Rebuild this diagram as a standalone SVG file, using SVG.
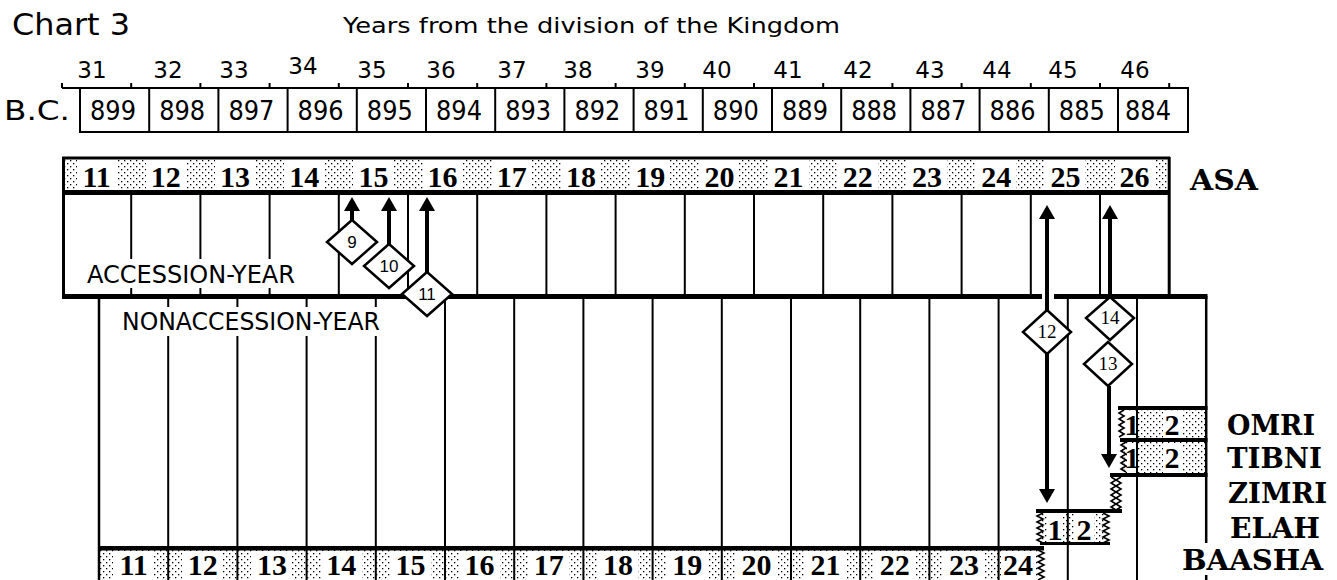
<svg xmlns="http://www.w3.org/2000/svg" width="1337" height="580" viewBox="0 0 1337 580">
<defs>
<pattern id="stip" width="6" height="6" patternUnits="userSpaceOnUse">
<rect width="6" height="6" fill="#fff"/>
<rect x="1" y="1" width="1.3" height="1.3" fill="#000"/>
<rect x="4" y="4" width="1.3" height="1.3" fill="#000"/>
</pattern>
</defs>
<style>
.sans{font-family:"DejaVu Sans","Liberation Sans",sans-serif;fill:#000}
.num{font-family:"Liberation Serif","DejaVu Serif",serif;font-weight:bold;font-size:30px;fill:#000;text-anchor:middle}
.lbl{font-family:"DejaVu Serif","Liberation Serif",serif;font-weight:bold;font-size:27px;fill:#000}
.ln{stroke:#000;stroke-width:2;fill:none}
.bd{stroke:#000;stroke-width:3;fill:none}
.zig{stroke:#000;stroke-width:1.6;fill:none}
.wh{fill:#fff}
.blk{fill:#000}
.dia{fill:#fff;stroke:#000;stroke-width:2.5}
.dn{font-family:"Liberation Sans","DejaVu Sans",sans-serif;font-size:17px;text-anchor:middle;fill:#000}
.dns{font-family:"Liberation Serif","DejaVu Serif",serif;font-size:19px;text-anchor:middle;fill:#000}
.shaft{stroke:#000;stroke-width:4;fill:none}
.yr{font-family:"DejaVu Sans","Liberation Sans",sans-serif;font-size:23px;text-anchor:middle;fill:#000}
.bc{font-family:"DejaVu Sans","Liberation Sans",sans-serif;font-size:26px;text-anchor:middle;fill:#000}
</style>
<rect width="1337" height="580" fill="#fff"/>

<g id="title">
<text x="12" y="35" class="sans" font-size="30" textLength="118" lengthAdjust="spacingAndGlyphs">Chart 3</text>
<text x="343" y="33" class="sans" font-size="21" textLength="497" lengthAdjust="spacingAndGlyphs">Years from the division of the Kingdom</text>
</g>

<g id="year-scale">
<line class="ln" x1="62" y1="88" x2="1188" y2="88"/>
<path class="ln" d="M62 83V88M131.2 83V88M200.4 83V88M269.6 83V88M338.8 83V88M408 83V88M477.2 83V88M546.4 83V88M615.6 83V88M684.8 83V88M754 83V88M823.2 83V88M892.4 83V88M961.6 83V88M1030.8 83V88M1100 83V88M1169.2 83V88"/>
<text class="yr" x="92" y="78">31</text>
<text class="yr" x="168" y="78">32</text>
<text class="yr" x="234" y="78">33</text>
<text class="yr" x="303" y="74">34</text>
<text class="yr" x="372" y="78">35</text>
<text class="yr" x="441" y="78">36</text>
<text class="yr" x="512" y="78">37</text>
<text class="yr" x="578" y="78">38</text>
<text class="yr" x="650" y="78">39</text>
<text class="yr" x="717" y="78">40</text>
<text class="yr" x="788" y="78">41</text>
<text class="yr" x="858" y="78">42</text>
<text class="yr" x="930" y="78">43</text>
<text class="yr" x="997" y="78">44</text>
<text class="yr" x="1063" y="78">45</text>
<text class="yr" x="1135" y="78">46</text>
</g>

<g id="bc-row">
<text x="4" y="120" class="sans" font-size="26" textLength="66" lengthAdjust="spacingAndGlyphs">B.C.</text>
<rect class="ln" x="80" y="88" width="1108" height="44"/>
<path class="ln" d="M149.2 88V132M218.4 88V132M287.6 88V132M356.8 88V132M426 88V132M495.2 88V132M564.4 88V132M633.6 88V132M702.8 88V132M772 88V132M841.2 88V132M910.4 88V132M979.6 88V132M1048.8 88V132M1118 88V132"/>
<g class="bc">
<text x="113" y="120" textLength="46" lengthAdjust="spacingAndGlyphs">899</text>
<text x="182.2" y="120" textLength="46" lengthAdjust="spacingAndGlyphs">898</text>
<text x="251.4" y="120" textLength="46" lengthAdjust="spacingAndGlyphs">897</text>
<text x="320.6" y="120" textLength="46" lengthAdjust="spacingAndGlyphs">896</text>
<text x="389.8" y="120" textLength="46" lengthAdjust="spacingAndGlyphs">895</text>
<text x="459" y="120" textLength="46" lengthAdjust="spacingAndGlyphs">894</text>
<text x="528.2" y="120" textLength="46" lengthAdjust="spacingAndGlyphs">893</text>
<text x="597.4" y="120" textLength="46" lengthAdjust="spacingAndGlyphs">892</text>
<text x="666.6" y="120" textLength="46" lengthAdjust="spacingAndGlyphs">891</text>
<text x="735.8" y="120" textLength="46" lengthAdjust="spacingAndGlyphs">890</text>
<text x="805" y="120" textLength="46" lengthAdjust="spacingAndGlyphs">889</text>
<text x="874.2" y="120" textLength="46" lengthAdjust="spacingAndGlyphs">888</text>
<text x="943.4" y="120" textLength="46" lengthAdjust="spacingAndGlyphs">887</text>
<text x="1012.6" y="120" textLength="46" lengthAdjust="spacingAndGlyphs">886</text>
<text x="1081.8" y="120" textLength="46" lengthAdjust="spacingAndGlyphs">885</text>
<text x="1148" y="120" textLength="46" lengthAdjust="spacingAndGlyphs">884</text>
</g>
</g>

<g id="asa">
<rect x="62" y="158" width="1107.2" height="33" fill="url(#stip)"/>
<line class="bd" x1="62" y1="158" x2="1170" y2="158"/>
<rect class="blk" x="62" y="190" width="1107.2" height="5"/>
<line class="bd" x1="63.5" y1="157" x2="63.5" y2="296"/>
<line class="bd" x1="1169.2" y1="157" x2="1169.2" y2="296"/>
<g class="wh">
<rect x="77" y="160" width="40" height="30"/><rect x="146" y="160" width="40" height="30"/><rect x="215" y="160" width="40" height="30"/><rect x="284" y="160" width="40" height="30"/><rect x="353" y="160" width="40" height="30"/><rect x="423" y="160" width="40" height="30"/><rect x="492" y="160" width="40" height="30"/><rect x="561" y="160" width="40" height="30"/><rect x="630" y="160" width="40" height="30"/><rect x="699" y="160" width="40" height="30"/><rect x="769" y="160" width="40" height="30"/><rect x="838" y="160" width="40" height="30"/><rect x="907" y="160" width="40" height="30"/><rect x="976" y="160" width="40" height="30"/><rect x="1045" y="160" width="40" height="30"/><rect x="1115" y="160" width="40" height="30"/>
</g>
<text class="num" x="96.6" y="187">11</text>
<text class="num" x="165.8" y="187">12</text>
<text class="num" x="235" y="187">13</text>
<text class="num" x="304.2" y="187">14</text>
<text class="num" x="373.4" y="187">15</text>
<text class="num" x="442.6" y="187">16</text>
<text class="num" x="511.8" y="187">17</text>
<text class="num" x="581" y="187">18</text>
<text class="num" x="650.2" y="187">19</text>
<text class="num" x="719.4" y="187">20</text>
<text class="num" x="788.6" y="187">21</text>
<text class="num" x="857.8" y="187">22</text>
<text class="num" x="927" y="187">23</text>
<text class="num" x="996.2" y="187">24</text>
<text class="num" x="1065.4" y="187">25</text>
<text class="num" x="1134.6" y="187">26</text>
<text class="lbl" x="1190" y="190" textLength="68" lengthAdjust="spacingAndGlyphs">ASA</text>
</g>

<g id="accession-year">
<path class="ln" d="M131.2 195V294M200.4 195V294M269.6 195V294M338.8 195V294M408 195V294M477.2 195V294M546.4 195V294M615.6 195V294M684.8 195V294M754 195V294M823.2 195V294M892.4 195V294M961.6 195V294M1030.8 195V294M1100 195V294"/>
<rect class="wh" x="82" y="259" width="218" height="29"/>
<text x="87" y="283" class="sans" font-size="24" textLength="208" lengthAdjust="spacingAndGlyphs">ACCESSION-YEAR</text>
<rect class="blk" x="62" y="294" width="980" height="5"/>
<rect class="blk" x="1054" y="294" width="153.5" height="5"/>
</g>

<g id="omri">
<rect x="1122" y="410" width="85" height="28" fill="url(#stip)"/>
<rect class="blk" x="1118" y="406" width="89.5" height="4"/>
<polyline class="zig" points="1124,410 1119,413 1124,416 1119,419 1124,422 1119,425 1124,428 1119,431 1124,434 1119,437"/>
<rect class="wh" x="1126" y="411" width="10" height="27"/>
<rect class="wh" x="1163" y="411" width="19" height="27"/>
<text class="num" x="1132" y="435">1</text>
<text class="num" x="1172" y="435">2</text>
<text class="lbl" x="1227" y="435" textLength="88" lengthAdjust="spacingAndGlyphs">OMRI</text>
</g>

<g id="tibni">
<rect class="blk" x="1120" y="438" width="87.5" height="4"/>
<rect x="1124" y="442" width="83" height="31" fill="url(#stip)"/>
<polyline class="zig" points="1126,442 1121,445 1126,448 1121,451 1126,454 1121,457 1126,460 1121,463 1126,466 1121,469 1126,472"/>
<rect class="wh" x="1127" y="443" width="9" height="30"/>
<rect class="wh" x="1163" y="443" width="19" height="30"/>
<text class="num" x="1132" y="468">1</text>
<text class="num" x="1172" y="468">2</text>
<rect class="blk" x="1110" y="473" width="97.5" height="4"/>
<text class="lbl" x="1227" y="468" textLength="95" lengthAdjust="spacingAndGlyphs">TIBNI</text>
</g>

<g id="zimri">
<polyline class="zig" points="1111,477 1116,480 1111,483 1116,486 1111,489 1116,492 1111,495 1116,498 1111,501 1116,504 1111,507 1116,510"/>
<polyline class="zig" points="1121,477 1116,480 1121,483 1116,486 1121,489 1116,492 1121,495 1116,498 1121,501 1116,504 1121,507 1116,510"/>
<text class="lbl" x="1228" y="503" textLength="99" lengthAdjust="spacingAndGlyphs">ZIMRI</text>
</g>

<g id="elah">
<rect x="1040" y="513" width="66" height="30" fill="url(#stip)"/>
<rect class="blk" x="1036" y="509" width="86" height="4"/>
<polyline class="zig" points="1043,513 1037,516 1043,519 1037,522 1043,525 1037,528 1043,531 1037,534 1043,537 1037,540 1043,543"/>
<polyline class="zig" points="1103,513 1109,516 1103,519 1109,522 1103,525 1109,528 1103,531 1109,534 1103,537 1109,540 1103,543"/>
<rect class="wh" x="1047" y="514" width="15" height="28"/>
<rect class="wh" x="1074" y="514" width="20" height="28"/>
<text class="num" x="1055" y="540">1</text>
<text class="num" x="1084" y="540">2</text>
<rect class="blk" x="1040" y="542" width="70" height="3"/>
<text class="lbl" x="1230" y="538" textLength="90" lengthAdjust="spacingAndGlyphs">ELAH</text>
</g>

<g id="baasha">
<rect x="99" y="550" width="940" height="30" fill="url(#stip)"/>
<rect class="blk" x="99" y="546" width="945" height="4.5"/>
<polyline class="zig" points="1038,550 1044,553 1038,556 1044,559 1038,562 1044,565 1038,568 1044,571 1038,574 1044,577 1038,580"/>
<g class="wh">
<rect x="113" y="551" width="41" height="29"/><rect x="182" y="551" width="41" height="29"/><rect x="251" y="551" width="41" height="29"/><rect x="321" y="551" width="41" height="29"/><rect x="390" y="551" width="41" height="29"/><rect x="459" y="551" width="41" height="29"/><rect x="528" y="551" width="41" height="29"/><rect x="597" y="551" width="41" height="29"/><rect x="667" y="551" width="41" height="29"/><rect x="736" y="551" width="41" height="29"/><rect x="805" y="551" width="41" height="29"/><rect x="874" y="551" width="41" height="29"/><rect x="943" y="551" width="41" height="29"/><rect x="1001" y="551" width="34" height="29"/>
</g>
<text class="num" x="133.6" y="575">11</text>
<text class="num" x="202.8" y="575">12</text>
<text class="num" x="272" y="575">13</text>
<text class="num" x="341.2" y="575">14</text>
<text class="num" x="410.4" y="575">15</text>
<text class="num" x="479.6" y="575">16</text>
<text class="num" x="548.8" y="575">17</text>
<text class="num" x="618" y="575">18</text>
<text class="num" x="687.2" y="575">19</text>
<text class="num" x="756.4" y="575">20</text>
<text class="num" x="825.6" y="575">21</text>
<text class="num" x="894.8" y="575">22</text>
<text class="num" x="964" y="575">23</text>
<text class="num" x="1018" y="575">24</text>
<text class="lbl" x="1182" y="570" textLength="141" lengthAdjust="spacingAndGlyphs">BAASHA</text>
</g>

<g id="nonaccession-year">
<line x1="99" y1="296" x2="99" y2="580" stroke="#000" stroke-width="2.5"/>
<path class="ln" d="M168.2 299V580M237.4 299V580M306.6 299V580M375.8 299V580M445 299V580M514.2 299V580M583.4 299V580M652.6 299V580M721.8 299V580M791 299V580M860.2 299V580M929.4 299V580M998.6 299V580M1067.8 299V580M1137 299V580"/>
<path d="M1206.2 296V543M1206.2 575V580" stroke="#000" stroke-width="2.5" fill="none"/>
<rect class="wh" x="110" y="307" width="276" height="29"/>
<text x="122" y="330" class="sans" font-size="24" textLength="258" lengthAdjust="spacingAndGlyphs">NONACCESSION-YEAR</text>
</g>

<g id="connectors">
<path class="shaft" d="M352 220V208M389 244V208M427 272V208M1047 310V216M1047 354V492M1110 297V216M1109 386V457"/>
<polygon class="blk" points="352,197 344,211 360,211"/>
<polygon class="blk" points="389,197 381,211 397,211"/>
<polygon class="blk" points="427,197 419,211 435,211"/>
<polygon class="blk" points="1047,205 1039,219 1055,219"/>
<polygon class="blk" points="1110,205 1102,219 1118,219"/>
<polygon class="blk" points="1047,503 1039,489 1055,489"/>
<polygon class="blk" points="1109,468 1101,454 1117,454"/>
</g>

<g id="d9"><polygon class="dia" points="352,220 377,242 352,264 327,242"/><text class="dn" x="352" y="248">9</text></g>
<g id="d10"><polygon class="dia" points="389,244 414,266 389,288 364,266"/><text class="dn" x="389" y="272">10</text></g>
<g id="d11"><polygon class="dia" points="427,272 452,294 427,316 402,294"/><text class="dn" x="427" y="300">11</text></g>
<g id="d12"><polygon class="dia" points="1047,310 1071,332 1047,354 1023,332"/><text class="dns" x="1047" y="338">12</text></g>
<g id="d14"><polygon class="dia" points="1110,297 1134,318 1110,340 1086,318"/><text class="dns" x="1110" y="324">14</text></g>
<g id="d13"><polygon class="dia" points="1108,342 1132,364 1108,386 1084,364"/><text class="dns" x="1108" y="370">13</text></g>
</svg>
